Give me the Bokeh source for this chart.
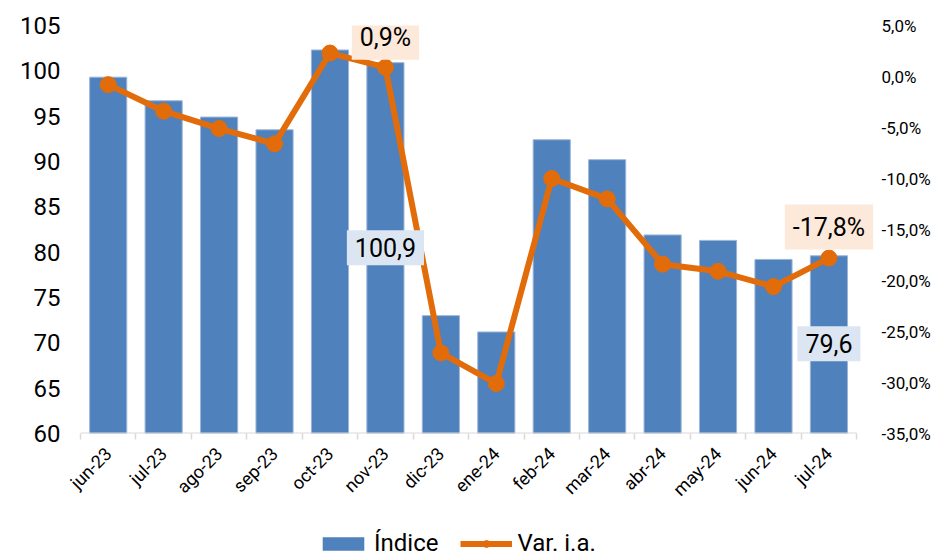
import numpy as np
from bokeh.plotting import figure
from bokeh.layouts import column
from bokeh.models import (ColumnDataSource, Range1d, LinearAxis, FixedTicker,
                          CustomJSTickFormatter, Legend, LegendItem, Label)
from bokeh.embed import file_html
from bokeh.resources import INLINE

months = ["jun-23", "jul-23", "ago-23", "sep-23", "oct-23", "nov-23", "dic-23",
          "ene-24", "feb-24", "mar-24", "abr-24", "may-24", "jun-24", "jul-24"]
indice = [99.3, 96.7, 94.9, 93.5, 102.3, 100.9, 73.0, 71.2, 92.4, 90.2, 81.9, 81.3, 79.2, 79.6]
var_ia = [-0.8, -3.4, -5.1, -6.6, 2.3, 0.9, -27.1, -30.1, -10.0, -12.0, -18.4, -19.1, -20.6, -17.8]
left_ticks = [60, 65, 70, 75, 80, 85, 90, 95, 100, 105]
right_ticks = [-35, -30, -25, -20, -15, -10, -5, 0, 5]
series_names = ["Índice", "Var. i.a."]

Y_START, Y_END = 60, 105
P_START, P_END = -35, 5
X_PAD_RIGHT = 0.34   # extra room at the right of the plot area for the data label

BLUE = "#4F81BD"
ORANGE = "#E36C0A"
AXIS_GRAY = "#D9D9D9"
FONT = "Roboto"

n = len(months)
x = list(range(n))
src = ColumnDataSource(dict(x=x, idx=indice, var=var_ia, base=[Y_START] * n))

p = figure(width=933, height=520, output_backend="svg", toolbar_location=None,
           x_range=Range1d(-0.5, n - 0.5 + X_PAD_RIGHT), y_range=Range1d(Y_START, Y_END),
           min_border_left=80, min_border_right=54, min_border_top=25, min_border_bottom=87)
p.outline_line_color = None
p.xgrid.visible = False
p.ygrid.visible = False
p.background_fill_color = "white"
p.border_fill_color = "white"

p.extra_y_ranges = {"pct": Range1d(P_START, P_END)}

p.vbar(x="x", top="idx", bottom="base", width=0.67, source=src,
       fill_color=BLUE, line_color="#9DB6D8", line_width=1)
# category axis baseline (only across the categories)
p.segment(x0=-0.5, x1=n - 0.5, y0=Y_START, y1=Y_START, line_color=AXIS_GRAY, line_width=2)
p.line(x="x", y="var", source=src, color=ORANGE, line_width=6,
       y_range_name="pct", line_join="round")
p.scatter(x="x", y="var", source=src, size=16, fill_color=ORANGE,
          line_color=ORANGE, y_range_name="pct")

# x axis
xa = p.xaxis[0]
xa.ticker = FixedTicker(ticks=x, minor_ticks=[i - 0.5 for i in range(n + 1)])
xa.major_label_overrides = {i: m for i, m in enumerate(months)}
xa.major_label_orientation = np.pi / 4
xa.major_tick_line_color = None
xa.minor_tick_out = 6
xa.minor_tick_in = 0
xa.minor_tick_line_color = AXIS_GRAY
xa.minor_tick_line_width = 1.5
xa.axis_line_color = None
xa.major_label_text_font = FONT
xa.major_label_text_font_size = "18px"
xa.major_label_text_color = "#000000"
xa.major_label_standoff = 11

# left axis
ya = p.yaxis[0]
ya.ticker = FixedTicker(ticks=left_ticks)
ya.axis_line_color = None
ya.major_tick_line_color = None
ya.minor_tick_line_color = None
ya.major_label_text_font = FONT
ya.major_label_text_font_size = "24px"
ya.major_label_text_color = "#000000"
ya.major_label_standoff = 14

# right axis
ra = LinearAxis(y_range_name="pct")
ra.ticker = FixedTicker(ticks=right_ticks)
ra.formatter = CustomJSTickFormatter(code="return tick.toFixed(1).replace('.', ',') + '%';")
ra.axis_line_color = None
ra.major_tick_line_color = None
ra.minor_tick_line_color = None
ra.major_label_text_font = FONT
ra.major_label_text_font_size = "17px"
ra.major_label_text_color = "#000000"
ra.major_label_standoff = 0
p.add_layout(ra, "right")

# data labels
def add_label(i, y, text, bg, yoff, rng="default"):
    lab = Label(x=x[i], y=y, text=text, y_range_name=rng, text_font=FONT,
                text_font_size="25px", text_color="#000000", text_align="center",
                text_baseline="middle", y_offset=yoff,
                background_fill_color=bg, padding=8)
    p.add_layout(lab)

i_nov = months.index("nov-23")
i_last = n - 1
add_label(i_nov, var_ia[i_nov], "0,9%", "#FDE9D9", 30, "pct")
add_label(i_last, var_ia[i_last], "-17,8%", "#FDE9D9", 31, "pct")
add_label(i_nov, indice[i_nov], "100,9", "#DCE6F2", -185)
add_label(i_last, indice[i_last], "79,6", "#DCE6F2", -88)

# legend strip (separate figure below the chart)
lg = figure(width=933, height=37, output_backend="svg", toolbar_location=None,
            x_range=Range1d(0, 1), y_range=Range1d(0, 1),
            min_border_left=0, min_border_right=0, min_border_top=0, min_border_bottom=0)
lg.xaxis.visible = False
lg.yaxis.visible = False
lg.grid.visible = False
lg.outline_line_color = None
proxy = ColumnDataSource(dict(x=[-10], y=[-10], top=[-10]))  # out of view; only for legend swatches
lb = lg.vbar(x="x", top="top", width=0.5, source=proxy, fill_color=BLUE, line_color=None)
ll = lg.line(x="x", y="y", source=proxy, color=ORANGE, line_width=6)
ls = lg.scatter(x="x", y="y", source=proxy, size=16, fill_color=ORANGE, line_color=ORANGE)

legend = Legend(items=[LegendItem(label=series_names[0], renderers=[lb]),
                       LegendItem(label=series_names[1], renderers=[ll, ls])],
                orientation="horizontal", location=(237, 0),
                label_text_font=FONT, label_text_font_size="24px",
                label_text_color="#000000", glyph_width=52, glyph_height=17,
                padding=0, margin=0, spacing=22, label_standoff=5,
                border_line_color=None, background_fill_alpha=0)
lg.add_layout(legend, "center")

layout = column(p, lg, spacing=0)
open("out.html", "w").write(file_html(layout, INLINE))
